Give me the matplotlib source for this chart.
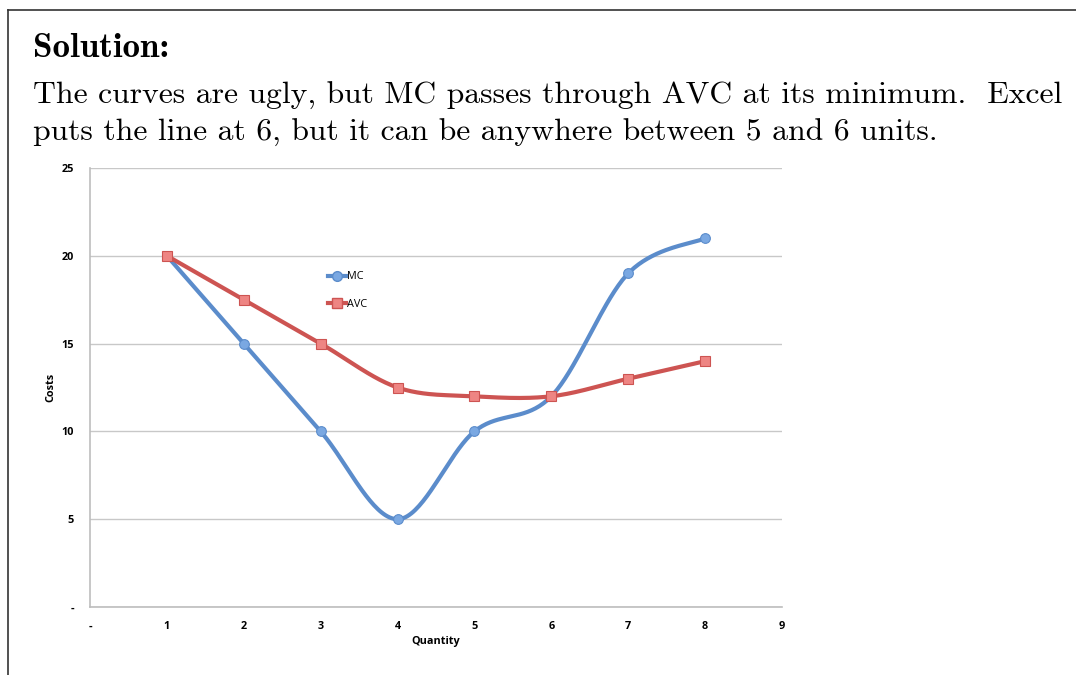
import numpy as np
import matplotlib
matplotlib.use('Agg')
from matplotlib import pyplot as plt
from matplotlib.lines import Line2D

# chart data
quantity = [1, 2, 3, 4, 5, 6, 7, 8]
mc = [20, 15, 10, 5, 10, 12, 19, 21]
avc = [20, 17.5, 15, 12.5, 12, 12, 13, 14]
x_ticks = [0, 1, 2, 3, 4, 5, 6, 7, 8, 9]
x_tick_labels = ['-', '1', '2', '3', '4', '5', '6', '7', '8', '9']
y_ticks = [0, 5, 10, 15, 20, 25]
y_tick_labels = ['-', '5', '10', '15', '20', '25']

heading = 'Solution:'
line1 = 'The curves are ugly, but MC passes through AVC at its minimum.  Excel'
line2 = 'puts the line at 6, but it can be anywhere between 5 and 6 units.'


def smooth(xs, ys, n=40):
    # excel style smoothed line (catmull-rom bezier between points)
    p = np.column_stack([xs, ys]).astype(float)
    p_ext = np.vstack([p[0], p, p[-1]])
    out = []
    for i in range(1, len(p_ext) - 2):
        p0, p1, p2, p3 = p_ext[i - 1], p_ext[i], p_ext[i + 1], p_ext[i + 2]
        c1 = p1 + (p2 - p0) / 6
        c2 = p2 - (p3 - p1) / 6
        t = np.linspace(0, 1, n)[:, None]
        seg = ((1 - t) ** 3) * p1 + 3 * ((1 - t) ** 2) * t * c1 + 3 * (1 - t) * t ** 2 * c2 + t ** 3 * p2
        out.append(seg)
    out = np.vstack(out)
    return out[:, 0], out[:, 1]


fig = plt.figure(figsize=(10.76, 6.75), dpi=100)

# page frame
fig.add_artist(Line2D([8 / 1076, 1], [1 - 10 / 675, 1 - 10 / 675], color='#333333', lw=1.2))
fig.add_artist(Line2D([8 / 1076, 8 / 1076], [0, 1 - 10 / 675], color='#333333', lw=1.2))

fig.text(33 / 1076, 1 - 57 / 675, heading, fontfamily='cmb10', fontsize=25.2, va='baseline')
fig.text(33 / 1076, 1 - 104 / 675, line1, fontfamily='cmr10', fontsize=22.8, va='baseline')
fig.text(33 / 1076, 1 - 141 / 675, line2, fontfamily='cmr10', fontsize=22.8, va='baseline')

ax = fig.add_axes([90 / 1076, 1 - 607 / 675, 692 / 1076, 439 / 675])

mx, my = smooth(quantity, mc)
ax.plot(mx, my, color='#5b8ccb', lw=3, zorder=3)
ax.plot(quantity, mc, 'o', color='#7aa8e2', ms=7, mec='#5b8ccb', mew=0.8, zorder=4)
ax.plot([], [], '-o', color='#5b8ccb', lw=3, mfc='#7aa8e2', ms=7, label='MC')

ax_, ay_ = smooth(quantity, avc)
ax.plot(ax_, ay_, color='#cd5452', lw=3, zorder=3)
ax.plot(quantity, avc, 's', color='#ee8583', ms=7, mec='#cd5452', mew=0.8, zorder=4)
ax.plot([], [], '-s', color='#cd5452', lw=3, mfc='#ee8583', ms=7, label='AVC')

ax.set_xlim(0, 9)
ax.set_ylim(0, 25)
ax.set_xticks(x_ticks)
ax.set_xticklabels(x_tick_labels)
ax.set_yticks(y_ticks)
ax.set_yticklabels(y_tick_labels)
ax.tick_params(length=0, labelsize=7.8)
for lab in ax.get_xticklabels() + ax.get_yticklabels():
    lab.set_fontweight('bold')
    lab.set_fontfamily('Open Sans')
ax.tick_params(axis='x', pad=10)
ax.tick_params(axis='y', pad=11.5)

ax.grid(axis='y', color='#c8c8c8', lw=1)
ax.set_axisbelow(True)
for s in ['top', 'right']:
    ax.spines[s].set_visible(False)
for s in ['left', 'bottom']:
    ax.spines[s].set_color('#bdbdbd')
    ax.spines[s].set_linewidth(1.2)

ax.set_xlabel('Quantity', fontsize=7.8, fontweight='bold', fontfamily='Open Sans', labelpad=3)
ax.set_ylabel('Costs', fontsize=7.8, fontweight='bold', fontfamily='Open Sans', labelpad=4)

leg = ax.legend(loc='upper left', bbox_to_anchor=(0.336, 0.777), frameon=False,
                prop={'family': 'Open Sans', 'size': 7.8}, handlelength=1.7,
                handletextpad=0.1, labelspacing=1.5, borderpad=0)

plt.savefig('out.png', dpi=100)
